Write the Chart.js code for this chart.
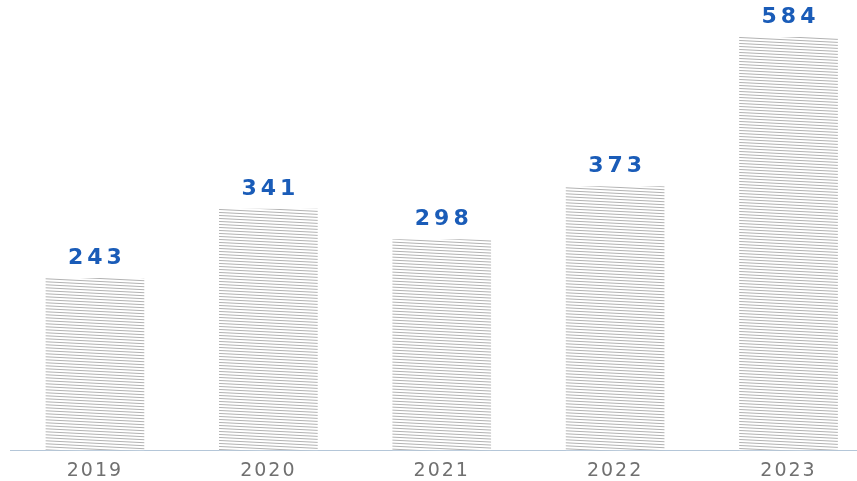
<!DOCTYPE html>
<html>
<head>
<meta charset="utf-8">
<script src="https://cdn.jsdelivr.net/npm/chart.js@4"></script>
<style>
html,body{margin:0;padding:0;background:#fff;}
#wrap{width:857px;height:481px;position:relative;}
</style>
</head>
<body>
<div id="wrap"><canvas id="c"></canvas></div>
<script>
const years = [2019, 2020, 2021, 2022, 2023];
const values = [243, 341, 298, 373, 584];
const labelColor = '#1a5cb8';

function makePattern() {
  const p = document.createElement('canvas');
  p.width = 60; p.height = 3;
  const g = p.getContext('2d');
  g.fillStyle = '#ffffff';
  g.fillRect(0, 0, 60, 3);
  g.strokeStyle = '#b2b2b2';
  g.lineWidth = 1;
  for (let k = -1; k <= 1; k++) {
    g.beginPath();
    g.moveTo(0, 0.5 + k * 3);
    g.lineTo(60, 3.5 + k * 3);
    g.stroke();
  }
  return g.createPattern(p, 'repeat');
}

const valueLabels = {
  id: 'valueLabels',
  beforeDraw(chart) { chart.ctx.letterSpacing = '2px'; },
  afterDatasetsDraw(chart) {
    const ctx = chart.ctx;
    const meta = chart.getDatasetMeta(0);
    ctx.save();
    ctx.letterSpacing = '4px';
    ctx.font = 'bold 22px "DejaVu Sans"';
    ctx.fillStyle = labelColor;
    ctx.textAlign = 'center';
    ctx.textBaseline = 'middle';
    meta.data.forEach((bar, i) => {
      ctx.fillText(String(values[i]), bar.x + 2, bar.y - 20);
    });
    ctx.restore();
    ctx.letterSpacing = '0px';
  }
};

new Chart(document.getElementById('c'), {
  type: 'bar',
  data: {
    datasets: [{
      data: years.map((y, i) => ({ x: y, y: values[i] })),
      backgroundColor: makePattern(),
      borderWidth: 0,
      barThickness: 98
    }]
  },
  options: {
    responsive: true,
    maintainAspectRatio: false,
    animation: false,
    layout: { padding: { top: 26, left: 10, right: 0, bottom: -10 } },
    plugins: { legend: { display: false }, tooltip: { enabled: false } },
    scales: {
      x: {
        type: 'linear',
        offset: false,
        bounds: 'ticks',
        min: 2018.51,
        max: 2023.395,
        grid: { display: false, drawTicks: false, tickLength: 0 },
        border: { display: true, color: '#b4c6d8', width: 1 },
        afterBuildTicks(scale) {
          scale.ticks = years.map(v => ({ value: v }));
        },
        ticks: {
          stepSize: 1,
          padding: 9,
          color: '#707070',
          font: { family: '"DejaVu Sans"', size: 19, weight: 'normal' },
          callback: v => String(v)
        }
      },
      y: { display: false, min: 0, max: 600 }
    }
  },
  plugins: [valueLabels]
});
</script>
</body>
</html>
